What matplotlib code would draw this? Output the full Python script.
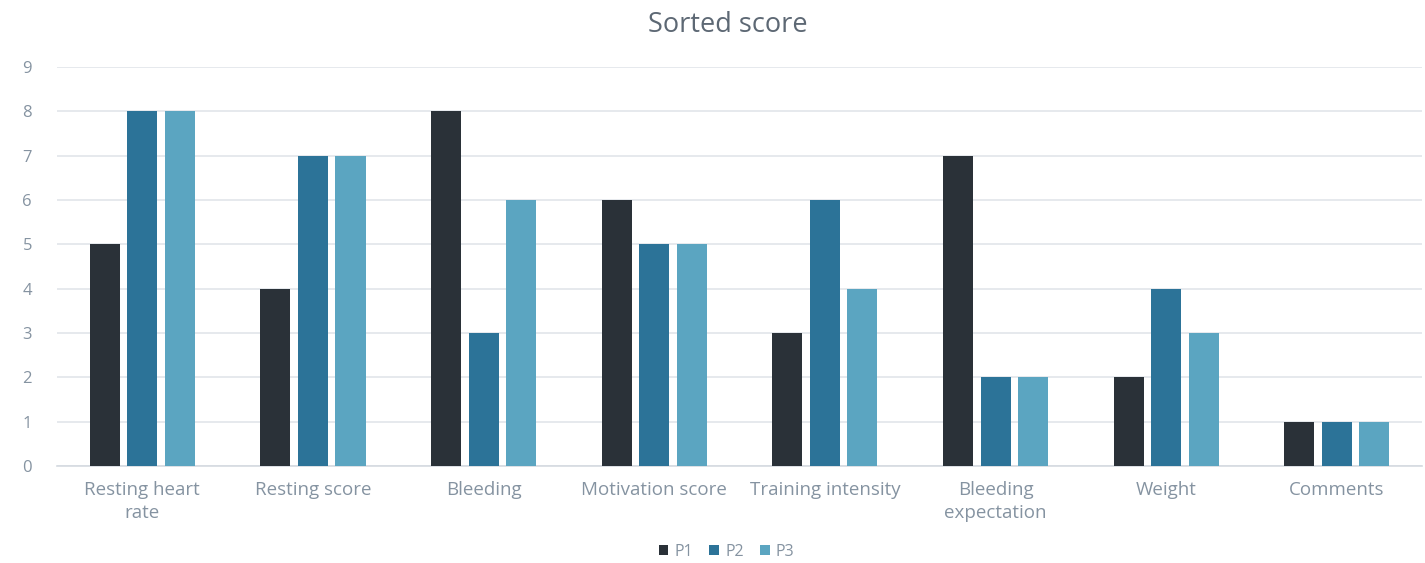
import matplotlib
matplotlib.use("Agg")
import matplotlib.pyplot as plt
import numpy as np

categories = ["Resting heart\nrate", "Resting score", "Bleeding", "Motivation score",
              "Training intensity", "Bleeding\nexpectation", "Weight", "Comments"]
series_names = ["P1", "P2", "P3"]
p1 = [5, 4, 8, 6, 3, 7, 2, 1]
p2 = [8, 7, 3, 5, 6, 2, 4, 1]
p3 = [8, 7, 6, 5, 4, 2, 3, 1]
y_ticks = list(range(0, 10))

colors = ["#2a3138", "#2c7398", "#5ba5c1"]
text_color = "#8593a1"

plt.rcParams["font.family"] = ["Open Sans", "DejaVu Sans"]

fig = plt.figure(figsize=(14.25, 5.63), dpi=100)
ax = fig.add_axes([0.04, 0.172, 0.958, 0.709])

x = np.arange(len(categories))
width = 0.176
step = 0.22
for i, (vals, name) in enumerate(zip([p1, p2, p3], series_names)):
    ax.bar(x + (i - 1) * step, vals, width=width, color=colors[i], label=name, zorder=3)

ax.set_xlim(-0.5, len(categories) - 0.5)
ax.set_ylim(0, 9)
ax.set_yticks(y_ticks)
ax.set_xticks(x)
ax.set_xticklabels(categories, fontsize=13.5, color=text_color, linespacing=1.3)
ax.tick_params(axis="y", labelsize=12, colors=text_color, length=0, pad=18)
ax.tick_params(axis="x", length=0, pad=11)
ax.grid(axis="y", color="#e2e5ea", linewidth=1.2, zorder=0)
for side in ["top", "right", "left"]:
    ax.spines[side].set_visible(False)
ax.spines["bottom"].set_color("#d5dae0")
ax.spines["bottom"].set_linewidth(1.2)

fig.text(0.511, 0.955, "Sorted score", ha="center", va="center", fontsize=19.5, color="#5d6874")

leg = fig.legend(loc="center", bbox_to_anchor=(0.51, 0.02), ncol=3, frameon=False,
                 fontsize=11.5, handlelength=0.6, handleheight=0.6, handletextpad=0.4,
                 columnspacing=1.0)
for t in leg.get_texts():
    t.set_color(text_color)

fig.savefig("out.png", dpi=100, facecolor="white")
